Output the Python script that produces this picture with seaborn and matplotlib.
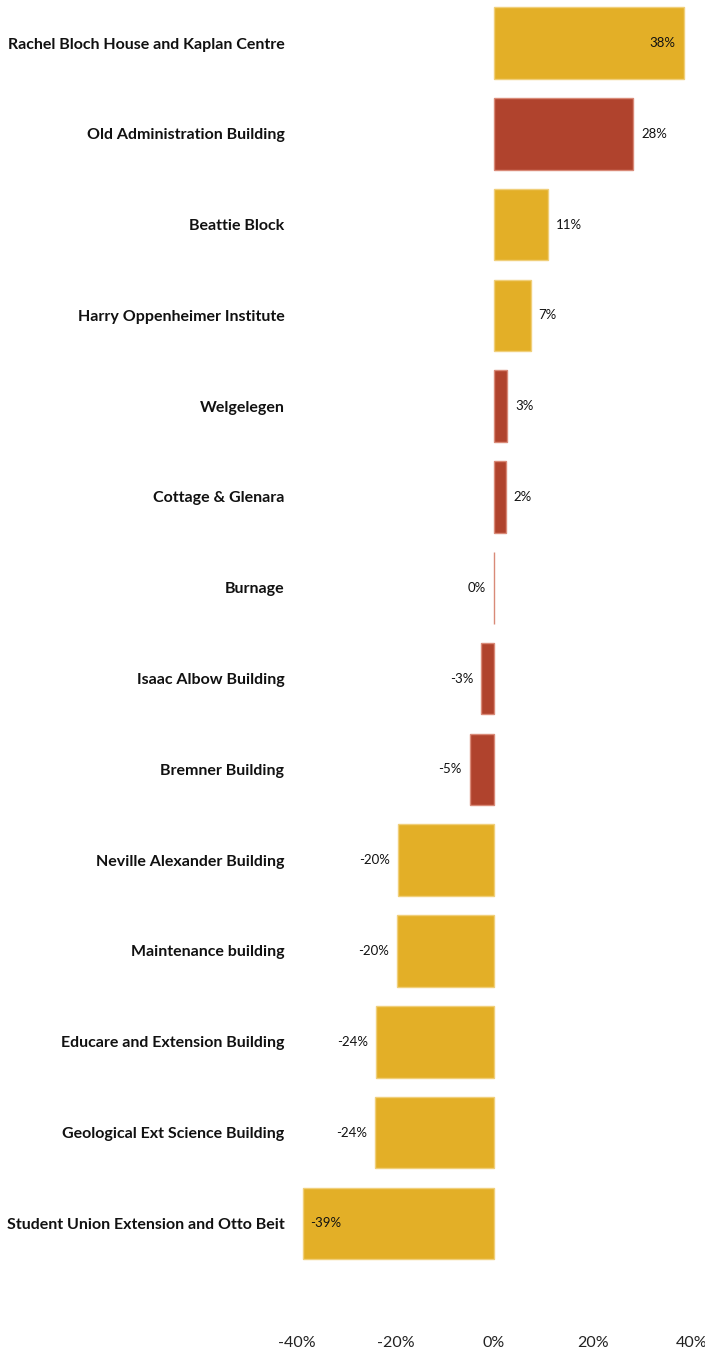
import matplotlib
matplotlib.use("Agg")
import matplotlib.pyplot as plt
import seaborn as sns
import pandas as pd

buildings = [
    "Rachel Bloch House and Kaplan Centre",
    "Old Administration Building",
    "Beattie Block",
    "Harry Oppenheimer Institute",
    "Welgelegen",
    "Cottage & Glenara",
    "Burnage",
    "Isaac Albow Building",
    "Bremner Building",
    "Neville Alexander Building",
    "Maintenance building",
    "Educare and Extension Building",
    "Geological Ext Science Building",
    "Student Union Extension and Otto Beit",
]
change = [38.5, 28.2, 11.0, 7.4, 2.6, 2.4, 0.0, -2.6, -4.9, -19.6, -19.8, -23.9, -24.1, -38.7]
group = ["A", "B", "A", "A", "B", "B", "B", "B", "B", "A", "A", "A", "A", "A"]
xticks = [-40, -20, 0, 20, 40]

df = pd.DataFrame({"building": buildings, "change": change, "group": group})

sns.set_theme(style="white")
plt.rcParams["font.family"] = ["Lato", "DejaVu Sans"]

W, H = 705, 1353
fig = plt.figure(figsize=(W / 100, H / 100), dpi=100)

# layout in pixels
x0_px, x_left_px, px_per_pct = 494, 297, 4.93
row_px, first_row_px, ax_bottom_px = 90.8, 43, 1322
ax = fig.add_axes([x_left_px / W, 1 - ax_bottom_px / H, (W - x_left_px) / W, ax_bottom_px / H])

palette = {"A": "#E3AF27", "B": "#B0432D"}
edges = {"A": "#F0CF7A", "B": "#D98A78"}

sns.barplot(data=df, x="change", y="building", hue="group", palette=palette,
            dodge=False, orient="h", width=0.79, legend=False, ax=ax, saturation=1)

# lighter outline on each bar
for bar in ax.patches:
    hexc = matplotlib.colors.to_hex(bar.get_facecolor()).upper()
    key = "A" if hexc == palette["A"].upper() else "B"
    bar.set_edgecolor(edges[key])
    bar.set_linewidth(1.0)

ax.set_xlim((x_left_px - x0_px) / px_per_pct, (W - x0_px) / px_per_pct)
y_top = -(first_row_px / row_px)
ax.set_ylim(y_top + ax_bottom_px / row_px, y_top)

for i, v in enumerate(change):
    label = f"{round(v):d}%"
    if v > 35:
        off, ha = -8, "right"
    elif v < -35:
        off, ha = 7, "left"
    elif v > 0:
        off, ha = 8, "left"
    else:
        off, ha = -8, "right"
    ax.annotate(label, (v, i), xytext=(off, 0), textcoords="offset pixels",
                ha=ha, va="center", fontsize=9.5, color="#111111")

ax.set_xticks(xticks)
ax.set_xticklabels([f"{t}%" for t in xticks], fontsize=11.5, color="#222222")
ax.tick_params(axis="x", length=0, pad=10)
ax.tick_params(axis="y", length=0, pad=9)
for lab in ax.get_yticklabels():
    lab.set_fontweight("bold")
    lab.set_fontsize(11.5)
    lab.set_color("#111111")
ax.set_xlabel("")
ax.set_ylabel("")
sns.despine(ax=ax, left=True, bottom=True)

fig.savefig("out.png", dpi=100)
